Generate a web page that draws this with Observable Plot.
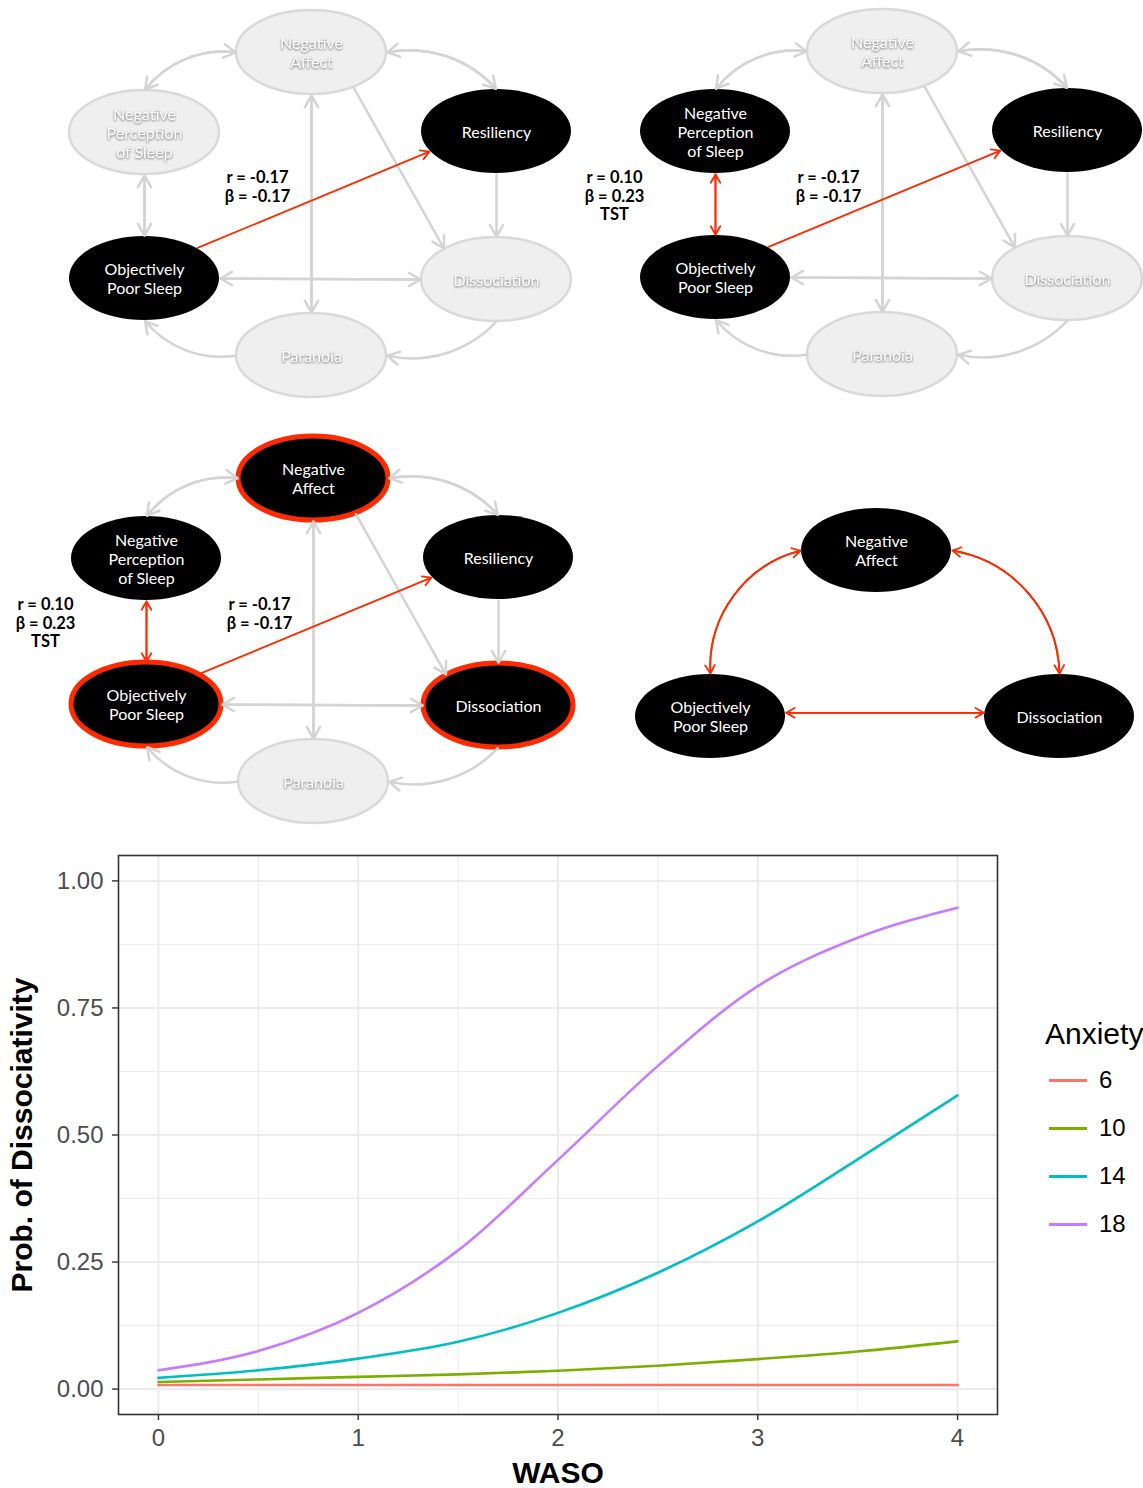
<!DOCTYPE html>
<html>
<head>
<meta charset="utf-8">
<script src="https://cdn.jsdelivr.net/npm/d3@7"></script>
<script src="https://cdn.jsdelivr.net/npm/@observablehq/plot@0.6"></script>
<style>
  body { margin: 0; background: #fff; }
  #page { position: relative; width: 1143px; height: 1488px; overflow: hidden; background: #fff; }
  #diagram { position: absolute; left: 0; top: 0; }
  #chart { position: absolute; left: 0; top: 840px; }
  .legend { position: absolute; font-family: "Liberation Sans", Arial, sans-serif; color: #000; white-space: nowrap; }
  .legend-title { left: 1045px; top: 1019px; font-size: 30px; line-height: 30px; }
  .legend-row { left: 1049px; height: 48px; display: flex; align-items: center; font-size: 24px; }
  .legend-key { width: 38px; height: 3px; margin-right: 12px; }
</style>
</head>
<body>
<div id="page">
  <div id="diagram"></div>
  <div id="chart"></div>
</div>
<script>
// ---------- Path diagrams ----------
const NODE_RX = 75, NODE_RY = 42;

const nodeIds    = ["NA", "NPS", "RES", "OPS", "DIS", "PAR"];
const nodeLabels = ["Negative\nAffect", "Negative\nPerception\nof Sleep", "Resiliency",
                    "Objectively\nPoor Sleep", "Dissociation", "Paranoia"];
// full model layout, offsets from the Negative Affect node
const fullDX = [0, -167, 185, -167, 185, 0];
const fullDY = [0, 80, 79, 226, 227, 303];
// reduced (triangle) layout
const triangleIds = ["NA", "OPS", "DIS"];
const triangleDX  = [0, -166, 183];
const triangleDY  = [0, 166, 166];

const panelIds    = ["a", "b", "c", "d"];
const panelX      = [311, 882, 313, 876];
const panelY      = [52, 51, 478, 550];
const panelActive = [["RES", "OPS"], ["NPS", "RES", "OPS"], ["NA", "NPS", "RES", "OPS", "DIS"], ["NA", "OPS", "DIS"]];
const panelRinged = [[], [], ["NA", "OPS", "DIS"], []];

// structural paths of the full model (angles: attachment point on each ellipse, degrees)
const pathFrom      = ["NA",  "NA",  "NPS", "RES", "NA",  "NA",  "OPS", "PAR", "DIS"];
const pathTo        = ["NPS", "RES", "OPS", "DIS", "PAR", "DIS", "DIS", "OPS", "PAR"];
const pathFromAngle = [180,   0,     90,    90,    90,    56,    0,     180,   90];
const pathToAngle   = [270,   270,   270,   270,   270,   226,   180,   90,    0];
const pathBend      = [-30,   30,    0,     0,     0,     0,     0,     30,    30];
const pathTwoWay    = [true,  true,  true,  false, true,  false, true,  false, false];

// significant effects, per panel
const effectPanel     = ["a",   "b",   "b",   "c",   "c",   "d",   "d",   "d"];
const effectFrom      = ["OPS", "OPS", "NPS", "OPS", "NPS", "NA",  "NA",  "OPS"];
const effectTo        = ["RES", "RES", "OPS", "RES", "OPS", "OPS", "DIS", "DIS"];
const effectFromAngle = [-46,   -46,   90,    -46,   90,    180,   0,     -5];
const effectToAngle   = [152,   152,   270,   152,   270,   270,   270,   185];
const effectBend      = [0,     0,     0,     0,     0,     -40,   40,    0];
const effectTwoWay    = [false, false, true,  false, true,  true,  true,  true];

// coefficient annotations
const statPanel = ["a", "b", "b", "c", "c"];
const statText  = ["r = -0.17\nβ = -0.17", "r = 0.10\nβ = 0.23\nTST", "r = -0.17\nβ = -0.17",
                   "r = 0.10\nβ = 0.23\nTST", "r = -0.17\nβ = -0.17"];
const statDX    = [-54, -268, -54, -268, -54];
const statDY    = [117, 118, 118, 118, 118];

const nodes = [];
panelIds.forEach((p, i) => {
  const reduced = p === "d";
  const ids = reduced ? triangleIds : nodeIds;
  const dx = reduced ? triangleDX : fullDX;
  const dy = reduced ? triangleDY : fullDY;
  ids.forEach((id, j) => nodes.push({
    panel: p, id,
    label: nodeLabels[nodeIds.indexOf(id)],
    cx: panelX[i] + dx[j], cy: panelY[i] + dy[j],
    active: panelActive[i].includes(id),
    ringed: panelRinged[i].includes(id)
  }));
});
const nodeAt = (p, id) => nodes.find(n => n.panel === p && n.id === id);
function attach(p, id, deg) {
  const n = nodeAt(p, id), a = deg * Math.PI / 180;
  return [n.cx + NODE_RX * Math.cos(a), n.cy + NODE_RY * Math.sin(a)];
}
function arrowRows(p, from, to, fa, ta, bend, twoWay) {
  const [x1, y1] = attach(p, from, fa), [x2, y2] = attach(p, to, ta);
  const rows = [{x1, y1, x2, y2, bend}];
  if (twoWay) rows.push({x1: x2, y1: y2, x2: x1, y2: y1, bend: -bend});
  return rows;
}

const effectRows = effectPanel.flatMap((p, k) =>
  arrowRows(p, effectFrom[k], effectTo[k], effectFromAngle[k], effectToAngle[k], effectBend[k], effectTwoWay[k]));

const structuralRows = ["a", "b", "c"].flatMap(p => pathFrom.flatMap((f, k) => {
  const t = pathTo[k];
  const replaced = effectPanel.some((q, e) => q === p &&
    ((effectFrom[e] === f && effectTo[e] === t) || (effectFrom[e] === t && effectTo[e] === f)));
  return replaced ? [] : arrowRows(p, f, t, pathFromAngle[k], pathToAngle[k], pathBend[k], pathTwoWay[k]);
}));

function arrowMarks(rows, style) {
  return [...new Set(rows.map(r => r.bend))].map(b =>
    Plot.arrow(rows.filter(r => r.bend === b), {x1: "x1", y1: "y1", x2: "x2", y2: "y2", bend: b, ...style}));
}

const stats = statPanel.map((p, k) => {
  const i = panelIds.indexOf(p);
  return {x: panelX[i] + statDX[k], y: panelY[i] + statDY[k], text: statText[k]};
});

const ellipse = {
  x1: n => n.cx - NODE_RX, x2: n => n.cx + NODE_RX,
  y1: n => n.cy - NODE_RY, y2: n => n.cy + NODE_RY,
  rx: NODE_RX, ry: NODE_RY
};

const diagram = Plot.plot({
  width: 1143, height: 840, margin: 0,
  x: {domain: [0, 1143], range: [0, 1143], axis: null},
  y: {domain: [0, 840], range: [0, 840], axis: null},
  style: {fontFamily: "Lato, 'Open Sans', sans-serif", background: "transparent"},
  marks: [
    Plot.rect(nodes.filter(n => !n.active), {...ellipse, fill: "#efefef", stroke: "#d9d9d9", strokeWidth: 2.5}),
    Plot.rect(nodes.filter(n => n.active && !n.ringed), {...ellipse, fill: "black"}),
    Plot.rect(nodes.filter(n => n.ringed), {...ellipse, fill: "black", stroke: "#ff2a00", strokeWidth: 5}),
    ...arrowMarks(structuralRows, {stroke: "#d4d4d4", strokeWidth: 2.5, headLength: 8, insetEnd: 1, insetStart: 1}),
    ...arrowMarks(effectRows, {stroke: "#ff2a00", strokeWidth: 1.8, headLength: 8, insetEnd: 1, insetStart: 1}),
    Plot.text(nodes.filter(n => !n.active), {x: "cx", y: "cy", text: "label", fill: "white", fontSize: 16,
      lineHeight: 1.19, imageFilter: "drop-shadow(0px 1px 1px rgba(0,0,0,0.55))"}),
    Plot.text(nodes.filter(n => n.active), {x: "cx", y: "cy", text: "label", fill: "white", fontSize: 16, lineHeight: 1.19}),
    Plot.text(stats, {x: "x", y: "y", text: "text", fill: "black", fontSize: 16.5, fontWeight: "bold",
      lineHeight: 1.14, lineAnchor: "top"})
  ]
});
document.getElementById("diagram").append(diagram);

// ---------- Predicted probability of dissociativity ----------
const wasoHours     = [0, 0.5, 1, 1.5, 2, 2.5, 3, 3.5, 4];
const anxietyLevels = [6, 10, 14, 18];
const anxietyColors = ["#F8766D", "#7CAE00", "#00BFC4", "#C77CFF"];
const probAnxiety6  = [0.008, 0.008, 0.008, 0.008, 0.008, 0.008, 0.008, 0.008, 0.008];
const probAnxiety10 = [0.014, 0.019, 0.024, 0.029, 0.036, 0.046, 0.059, 0.074, 0.094];
const probAnxiety14 = [0.022, 0.037, 0.060, 0.093, 0.150, 0.229, 0.330, 0.452, 0.578];
const probAnxiety18 = [0.037, 0.075, 0.150, 0.273, 0.451, 0.636, 0.793, 0.888, 0.947];
const xTicks = [0, 1, 2, 3, 4];
const yTicks = [0, 0.25, 0.5, 0.75, 1];
const xMinor = [0.5, 1.5, 2.5, 3.5];
const yMinor = [0.125, 0.375, 0.625, 0.875];

const probSeries = [probAnxiety6, probAnxiety10, probAnxiety14, probAnxiety18];
const curves = anxietyLevels.flatMap((a, s) => wasoHours.map((w, i) => ({waso: w, anxiety: a, prob: probSeries[s][i]})));

const axisStyle = {stroke: "#333333", strokeWidth: 1.4, fill: "#4d4d4d", fontSize: 24, tickSize: 6, label: null};

const chart = Plot.plot({
  width: 1143, height: 648,
  marginTop: 15, marginLeft: 118, marginRight: 146, marginBottom: 74,
  x: {domain: [-0.2, 4.2]},
  y: {domain: [-0.05, 1.05]},
  color: {type: "ordinal", domain: anxietyLevels, range: anxietyColors},
  style: {fontFamily: "'Liberation Sans', Arial, sans-serif", background: "white", overflow: "visible"},
  marks: [
    Plot.gridX(xMinor, {stroke: "#ebebeb", strokeOpacity: 1, strokeWidth: 1}),
    Plot.gridY(yMinor, {stroke: "#ebebeb", strokeOpacity: 1, strokeWidth: 1}),
    Plot.gridX(xTicks, {stroke: "#ebebeb", strokeOpacity: 1, strokeWidth: 2}),
    Plot.gridY(yTicks, {stroke: "#ebebeb", strokeOpacity: 1, strokeWidth: 2}),
    Plot.line(curves, {x: "waso", y: "prob", stroke: "anxiety", strokeWidth: 2.6, curve: "monotone-x"}),
    Plot.axisX(xTicks, {...axisStyle, tickPadding: 8, tickFormat: d => String(d)}),
    Plot.axisY(yTicks, {...axisStyle, tickPadding: 9, tickFormat: d3.format(".2f")}),
    Plot.frame({stroke: "#333333", strokeWidth: 1.6}),
    Plot.text(["WASO"], {frameAnchor: "bottom", lineAnchor: "middle", dy: 59, fontSize: 30, fontWeight: "bold", fill: "black"}),
    Plot.text(["Prob. of Dissociativity"], {frameAnchor: "left", textAnchor: "middle", dx: -96, rotate: -90,
      fontSize: 30, fontWeight: "bold", fill: "black"})
  ]
});
document.getElementById("chart").append(chart);

// legend for the Anxiety colour scale
const page = document.getElementById("page");
const color = chart.scale("color");
const title = document.createElement("div");
title.className = "legend legend-title";
title.textContent = "Anxiety";
page.append(title);
anxietyLevels.forEach((a, i) => {
  const row = document.createElement("div");
  row.className = "legend legend-row";
  row.style.top = (1056 + 48 * i) + "px";
  const key = document.createElement("div");
  key.className = "legend-key";
  key.style.background = color.apply(a);
  const label = document.createElement("span");
  label.textContent = a;
  row.append(key, label);
  page.append(row);
});
</script>
</body>
</html>
